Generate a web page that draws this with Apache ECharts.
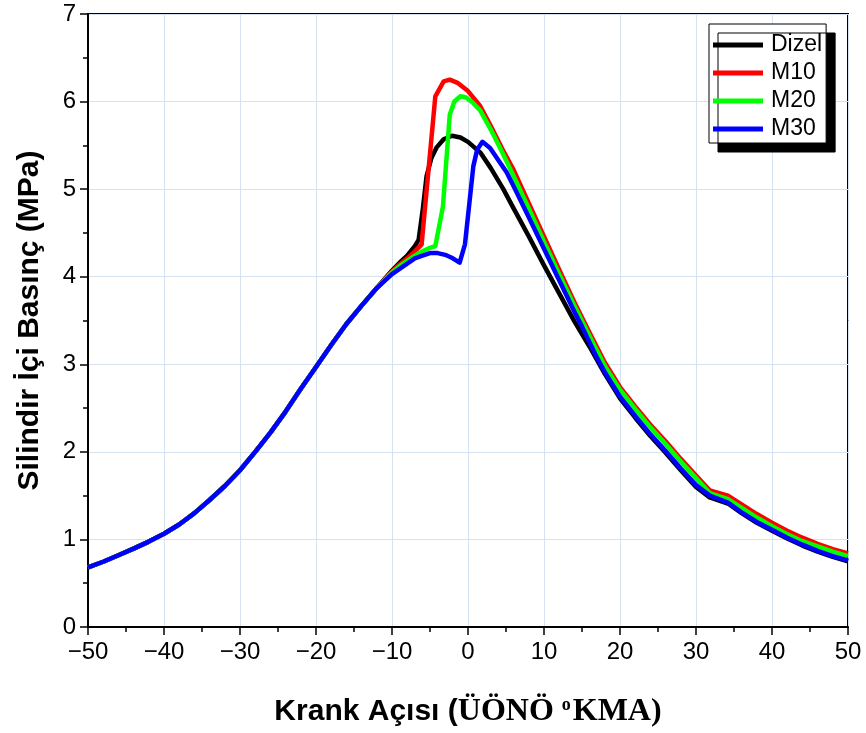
<!DOCTYPE html>
<html>
<head>
<meta charset="utf-8">
<script src="https://cdn.jsdelivr.net/npm/echarts@6/dist/echarts.min.js"></script>
<style>html,body{margin:0;padding:0;background:#fff}#c{width:866px;height:733px}</style>
</head>
<body>
<div id="c"></div>
<script>
// Shared compression part (all fuels identical)
var commonAngle    = [-50, -48, -46, -44, -42, -40, -38, -36, -34, -32, -30, -28, -26, -24, -22, -20, -18, -16, -14, -12];
var commonPressure = [0.68, 0.745, 0.82, 0.895, 0.975, 1.065, 1.17, 1.30, 1.45, 1.61, 1.79, 2.00, 2.22, 2.46, 2.72, 2.97, 3.22, 3.46, 3.67, 3.87];

var dizelAngle    = [-10, -9, -8, -7, -6.5, -5.95, -5.45, -4.8, -4.1, -3.2, -2.1, -1, 0, 1.6, 3, 4.65, 6, 8, 10, 12, 14, 16, 18, 20, 22, 24, 26, 28, 30, 31.8, 34.2, 36, 38, 40, 42, 44, 46, 48, 50];
var dizelPressure = [4.07, 4.16, 4.24, 4.35, 4.42, 4.77, 5.15, 5.36, 5.48, 5.57, 5.61, 5.59, 5.54, 5.42, 5.24, 5.0, 4.78, 4.46, 4.13, 3.81, 3.49, 3.20, 2.89, 2.61, 2.39, 2.18, 1.99, 1.79, 1.60, 1.48, 1.41, 1.30, 1.19, 1.10, 1.01, 0.93, 0.86, 0.80, 0.75];

var m10Angle    = [-10, -9, -8, -7, -6.1, -4.3, -3.2, -2.4, -1.3, 0, 1.6, 3, 4.5, 6, 8, 10, 12, 14, 16, 18, 20, 22, 24, 26, 28, 30, 31.8, 34.2, 36, 38, 40, 42, 44, 46, 48, 50];
var m10Pressure = [4.06, 4.14, 4.21, 4.29, 4.37, 6.06, 6.23, 6.25, 6.21, 6.12, 5.95, 5.72, 5.46, 5.22, 4.84, 4.46, 4.08, 3.71, 3.36, 3.02, 2.74, 2.52, 2.31, 2.12, 1.92, 1.73, 1.56, 1.50, 1.40, 1.29, 1.19, 1.10, 1.02, 0.95, 0.89, 0.84];

var m20Angle    = [-10, -9, -8, -7, -6, -5, -4.3, -3.3, -2.4, -1.8, -1.0, -0.3, 0.6, 1.6, 3, 4.5, 6, 8, 10, 12, 14, 16, 18, 20, 22, 24, 26, 28, 30, 31.8, 34.2, 36, 38, 40, 42, 44, 46, 48, 50];
var m20Pressure = [4.05, 4.12, 4.18, 4.24, 4.29, 4.33, 4.35, 4.80, 5.85, 6.00, 6.06, 6.05, 5.99, 5.90, 5.68, 5.42, 5.15, 4.78, 4.40, 4.03, 3.67, 3.32, 2.98, 2.71, 2.49, 2.28, 2.09, 1.89, 1.70, 1.53, 1.46, 1.36, 1.25, 1.15, 1.06, 0.98, 0.92, 0.86, 0.81];

var m30Angle    = [-10, -9, -8, -7, -6, -5, -4, -3, -2, -1.1, -0.4, 0.7, 1.2, 1.9, 2.9, 4, 5.1, 6.2, 8, 10, 12, 14, 15, 16, 17, 18, 20, 22, 24, 26, 28, 30, 31.8, 34.2, 36, 38, 40, 42, 44, 46, 48, 50];
var m30Pressure = [4.03, 4.09, 4.15, 4.21, 4.24, 4.27, 4.27, 4.25, 4.21, 4.16, 4.37, 5.26, 5.45, 5.54, 5.47, 5.33, 5.19, 5.0, 4.68, 4.32, 3.96, 3.60, 3.43, 3.25, 3.07, 2.91, 2.63, 2.41, 2.20, 2.01, 1.81, 1.62, 1.50, 1.42, 1.31, 1.20, 1.11, 1.02, 0.94, 0.87, 0.81, 0.76];

var seriesNames  = ['Dizel', 'M10', 'M20', 'M30'];
var seriesColors = ['#000000', '#ff0000', '#00ff00', '#0000ff'];

function build(ang, pr) {
  var out = [];
  for (var i = 0; i < commonAngle.length; i++) out.push([commonAngle[i], commonPressure[i]]);
  for (var j = 0; j < ang.length; j++) out.push([ang[j], pr[j]]);
  return out;
}
var allData = [
  build(dizelAngle, dizelPressure),
  build(m10Angle, m10Pressure),
  build(m20Angle, m20Pressure),
  build(m30Angle, m30Pressure)
];

var chart = echarts.init(document.getElementById('c'), null, {renderer: 'canvas'});
var fontSans = 'Liberation Sans, Arial, sans-serif';
var fontSerif = 'Liberation Serif, Times New Roman, serif';

var series = seriesNames.map(function (n, i) {
  return {
    name: n, type: 'line', data: allData[i], showSymbol: false, symbol: 'none',
    smooth: false, lineStyle: {color: seriesColors[i], width: 4.5, join: 'round'},
    itemStyle: {color: seriesColors[i]}, z: 3 + i
  };
});

chart.setOption({
  animation: false,
  backgroundColor: '#ffffff',
  grid: {left: 88, right: 18, top: 14, bottom: 105, show: true, borderColor: '#000', borderWidth: 2, backgroundColor: 'transparent'},
  legend: {
    data: seriesNames,
    orient: 'vertical',
    left: 709, top: 24,
    padding: [9, 4, 2, 4],
    itemWidth: 50, itemHeight: 5, itemGap: 4,
    icon: 'rect',
    selectedMode: false,
    backgroundColor: '#ffffff',
    borderColor: '#000000', borderWidth: 1,
    shadowColor: '#000000', shadowBlur: 0, shadowOffsetX: 9, shadowOffsetY: 9,
    textStyle: {fontFamily: fontSans, fontSize: 23, color: '#000', lineHeight: 24, padding: [0, 0, 0, 3]}
  },
  xAxis: {
    type: 'value', min: -50, max: 50, interval: 10,
    name: '{a|Krank Açısı (}{b|ÜÖNÖ }{c|o}{b|KMA)}',
    nameLocation: 'middle', nameGap: 69,
    nameTextStyle: {
      rich: {
        a: {fontFamily: fontSans, fontWeight: 'bold', fontSize: 30, color: '#000'},
        b: {fontFamily: fontSerif, fontWeight: 'bold', fontSize: 32, color: '#000'},
        c: {fontFamily: fontSerif, fontWeight: 'bold', fontSize: 18, color: '#000', verticalAlign: 'top', padding: [0, 2, 14, 0]}
      }
    },
    axisLine: {show: true, onZero: false, lineStyle: {color: '#000', width: 2}},
    axisTick: {show: true, inside: false, length: 8, lineStyle: {color: '#000', width: 1.5}},
    minorTick: {show: true, splitNumber: 2, length: 5, lineStyle: {color: '#000', width: 1.5}},
    axisLabel: {margin: 13, fontFamily: fontSans, fontSize: 24, color: '#000',
      formatter: function (v) { return v < 0 ? '\u2212' + Math.abs(v) : String(v); }},
    splitLine: {show: true, lineStyle: {color: '#d5e3f0', width: 1}}
  },
  yAxis: {
    type: 'value', min: 0, max: 7, interval: 1,
    name: 'Silindir İçi Basınç (MPa)',
    nameLocation: 'middle', nameGap: 43,
    nameTextStyle: {fontFamily: fontSans, fontWeight: 'bold', fontSize: 30, color: '#000'},
    axisLine: {show: true, onZero: false, lineStyle: {color: '#000', width: 2}},
    axisTick: {show: true, inside: false, length: 8, lineStyle: {color: '#000', width: 1.5}},
    minorTick: {show: true, splitNumber: 2, length: 5, lineStyle: {color: '#000', width: 1.5}},
    axisLabel: {margin: 12, fontFamily: fontSans, fontSize: 24, color: '#000'},
    splitLine: {show: true, lineStyle: {color: '#d5e3f0', width: 1}}
  },
  series: series
});
</script>
</body>
</html>
